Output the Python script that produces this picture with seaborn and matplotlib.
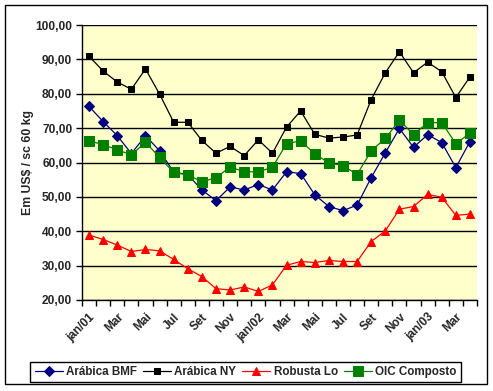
import numpy as np
import pandas as pd
import matplotlib
matplotlib.use("Agg")
import matplotlib.pyplot as plt
import seaborn as sns
from matplotlib.patches import Rectangle
from matplotlib.ticker import FixedLocator, FuncFormatter

sns.set_theme(style="white")
plt.rcParams['font.family'] = ['Liberation Sans', 'DejaVu Sans']
plt.rcParams['font.weight'] = 'bold'

# meses jan/01 .. abr/03
months = list(range(28))
tick_labels = ["jan/01", "Mar", "Mai", "Jul", "Set", "Nov",
               "jan/02", "Mar", "Mai", "Jul", "Set", "Nov",
               "jan/03", "Mar"]

arabica_bmf = [76.3, 71.9, 67.8, 62.6, 67.8, 63.4, 57.2, 56.5, 52.0, 48.9,
               52.9, 52.0, 53.6, 52.0, 57.3, 56.8, 50.6, 47.2, 46.0, 47.6,
               55.6, 62.8, 69.9, 64.4, 68.1, 65.8, 58.5, 66.1]
arabica_ny = [90.9, 86.6, 83.4, 81.3, 87.2, 79.9, 71.7, 71.7, 66.4, 62.7,
              64.7, 62.0, 66.6, 62.7, 70.3, 75.0, 68.2, 67.1, 67.4, 68.0,
              78.3, 86.1, 92.2, 86.1, 89.2, 86.4, 78.9, 84.9]
robusta_lo = [38.9, 37.6, 36.0, 34.1, 34.7, 34.3, 31.8, 29.1, 26.8, 23.3,
              22.9, 23.8, 22.5, 24.4, 30.1, 31.2, 30.9, 31.5, 31.2, 31.2,
              37.0, 40.1, 46.4, 47.2, 50.7, 49.9, 44.6, 45.0]
oic_composto = [66.3, 65.2, 63.7, 62.2, 65.9, 61.5, 57.1, 56.4, 54.4, 55.6,
                58.7, 57.3, 57.3, 58.6, 65.5, 66.3, 62.5, 59.9, 59.1, 56.5,
                63.4, 67.0, 72.3, 68.1, 71.6, 71.6, 65.5, 68.5]

df = pd.DataFrame({
    "mes": months,
    "Arábica BMF": arabica_bmf,
    "Arábica NY": arabica_ny,
    "Robusta Lo": robusta_lo,
    "OIC Composto": oic_composto,
})

styles = {
    "Arábica BMF": dict(color="#000080", marker="D", markersize=4.6),
    "Arábica NY": dict(color="black", marker="s", markersize=4.6),
    "Robusta Lo": dict(color="#FF0000", marker="^", markersize=5.6),
    "OIC Composto": dict(color="#008000", marker="s", markersize=6.8),
}

fig = plt.figure(figsize=(4.93, 3.91), dpi=100)
fig.patch.set_facecolor("white")
ax = fig.add_axes([82 / 493, 1 - 300 / 391, (477 - 82) / 493, (300 - 25) / 391])
ax.set_facecolor("#FFFFCC")

for name, st in styles.items():
    sns.lineplot(data=df, x="mes", y=name, ax=ax, color=st["color"],
                 marker=st["marker"], markersize=st["markersize"],
                 markeredgecolor=st["color"], markerfacecolor=st["color"],
                 linewidth=0.9, label=name, legend=False)

ax.set_xlim(-0.5, 27.5)
ax.set_ylim(20, 100)
ax.set_yticks(np.arange(20, 101, 10))
ax.yaxis.set_major_formatter(FuncFormatter(lambda v, p: f"{v:.2f}".replace(".", ",")))
ax.grid(axis="y", color="black", linewidth=1.0)
ax.set_axisbelow(True)

ax.set_xticks(range(0, 28, 2))
ax.set_xticklabels(tick_labels, rotation=45, ha="right", rotation_mode="anchor",
                   fontsize=8.6, fontweight="bold")
ax.xaxis.set_minor_locator(FixedLocator(np.arange(-0.5, 28, 1)))
ax.tick_params(axis="x", which="major", length=0, pad=8)
ax.tick_params(axis="x", which="minor", length=4, width=1, color="black", direction="out", bottom=True)
ax.tick_params(axis="y", length=4, width=1, color="black", direction="out", left=True,
               labelsize=8.6, pad=3)
for lab in ax.get_yticklabels():
    lab.set_fontweight("bold")

for s in ["top", "right"]:
    ax.spines[s].set_visible(False)
for s in ["left", "bottom"]:
    ax.spines[s].set_color("black")
    ax.spines[s].set_linewidth(1.0)

ax.set_xlabel("")
ax.set_ylabel("Em US$ / sc 60 kg", fontsize=8.8, fontweight="bold", labelpad=1)

handles, labels = ax.get_legend_handles_labels()
leg = fig.legend(handles, labels, loc="lower center", bbox_to_anchor=(0.498, 0.022),
                 ncol=4, frameon=True, fancybox=False, framealpha=1,
                 edgecolor="black", fontsize=8.4, handlelength=2.4,
                 columnspacing=0.5, handletextpad=0.3, borderpad=0.35,
                 borderaxespad=0)
leg.get_frame().set_linewidth(1.0)
for t in leg.get_texts():
    t.set_fontweight("bold")

fig.patches.append(Rectangle((5 / 493, 1 - 384 / 391), 482 / 493, 379 / 391,
                             transform=fig.transFigure, fill=False,
                             edgecolor="black", linewidth=1.0))

fig.savefig("out.png", dpi=100)
